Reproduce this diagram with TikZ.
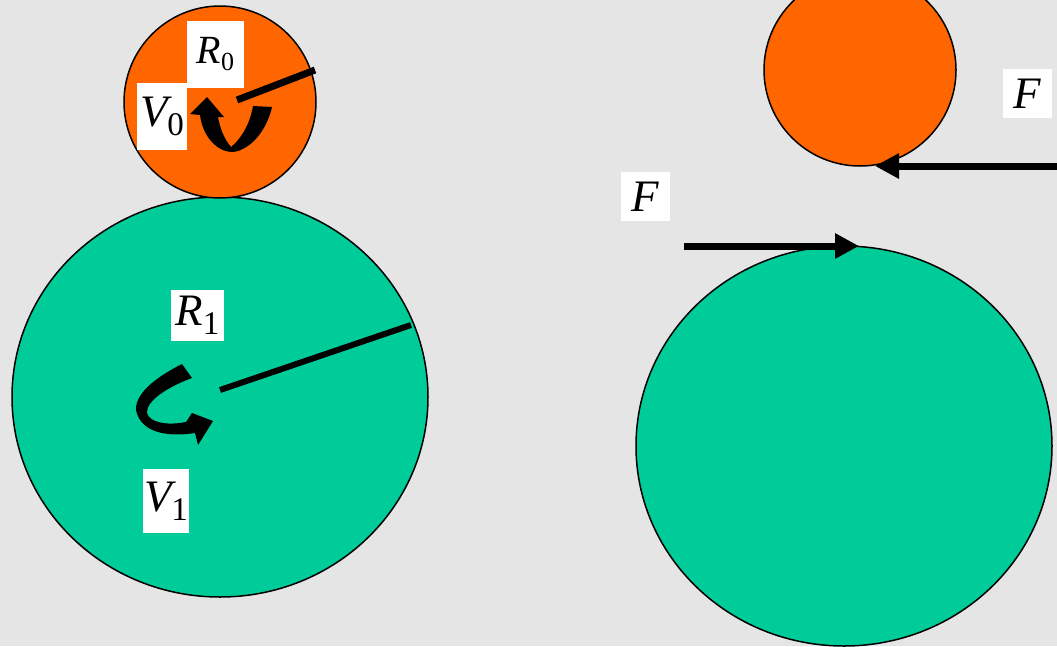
\documentclass[tikz,border=0pt]{standalone}
\usepackage{fontspec}
\setmainfont{Liberation Serif}
\usetikzlibrary{arrows.meta}
\definecolor{bg}{HTML}{E6E5E5}
\definecolor{gearorange}{HTML}{FF6600}
\definecolor{geargreen}{HTML}{00CC99}
\tikzset{
  lbl/.style={fill=white, inner sep=0pt, font=\fontsize{45}{48}\selectfont\itshape},
  disc/.style={draw=black, line width=1.5pt},
  radius line/.style={line width=7pt},
  force/.style={line width=7pt, -{Triangle[length=24pt,width=24pt]}},
}
\newcommand{\lsub}[3][0pt]{#2\kern#1\raisebox{-9pt}{\fontsize{33}{36}\selectfont\upshape #3}}
\newcommand{\ssub}[2]{#1\kern0pt\raisebox{-7pt}{\fontsize{26}{28}\selectfont\upshape #2}}
\begin{document}
\begin{tikzpicture}[x=1pt,y=-1pt]
\fill[bg] (0,0) rectangle (1057,646);
\useasboundingbox (0,0) rectangle (1057,646);
% left pair
\draw[disc, fill=geargreen] (220,397) ellipse [x radius=208, y radius=200];
\draw[disc, fill=gearorange] (220,102) circle [radius=96];
% radius lines
\coordinate (r0a) at (237,100); \coordinate (r0b) at (315,70);
\draw[radius line] (r0a) -- (r0b);
\coordinate (r1a) at (220,390); \coordinate (r1b) at (411,325);
\draw[radius line, line width=6pt] (r1a) -- (r1b);
% curved arrow in small gear
\fill (200,115) .. controls (203,140) and (222,156) .. (238,151)
  .. controls (256,145) and (268,125) .. (272,107)
  -- (253,106) .. controls (250,124) and (241,139) .. (231,147)
  .. controls (224,139) and (220,128) .. (218,117)
  -- (224,117) -- (207,97) -- (190,114) -- cycle;
% curved arrow in large gear
\fill (182,364) .. controls (160,375) and (135,392) .. (136,410)
  .. controls (140,430) and (162,438) .. (195,433)
  -- (198,445) -- (213,421) -- (192,413) -- (186,422)
  .. controls (166,426) and (149,422) .. (147,413)
  .. controls (146,400) and (170,386) .. (192,378) -- cycle;
% labels
\node[lbl, font=\fontsize{40}{44}\selectfont\itshape, minimum width=57pt, minimum height=67pt] (R0) at (215.5,54.5) {\ssub{R}{0}};
\node[lbl, minimum width=50pt, minimum height=67pt] (V0) at (162,116.5) {\lsub{V}{0}};
\node[lbl, minimum width=53pt, minimum height=51pt] (R1) at (197.5,315.5) {\lsub{R}{1}};
\node[lbl, minimum width=46pt, minimum height=64pt] (V1) at (166,501) {\lsub{V}{1}};
% right pair
\draw[disc, fill=geargreen] (844,446) ellipse [x radius=208, y radius=200];
\draw[disc, fill=gearorange] (860,70) circle [radius=96];
\coordinate (topcontact) at (875,166);
\coordinate (topstart) at (1060,166);
\coordinate (botcontact) at (859,246);
\coordinate (botstart) at (684,246);
\draw[force] (topstart) -- (topcontact);
\draw[force] (botstart) -- (botcontact);
\node[lbl, minimum width=49pt, minimum height=49pt] (F1) at (1027.5,93.5) {F};
\node[lbl, minimum width=49pt, minimum height=49pt] (F2) at (645.5,196.5) {F};
\end{tikzpicture}
\end{document}
